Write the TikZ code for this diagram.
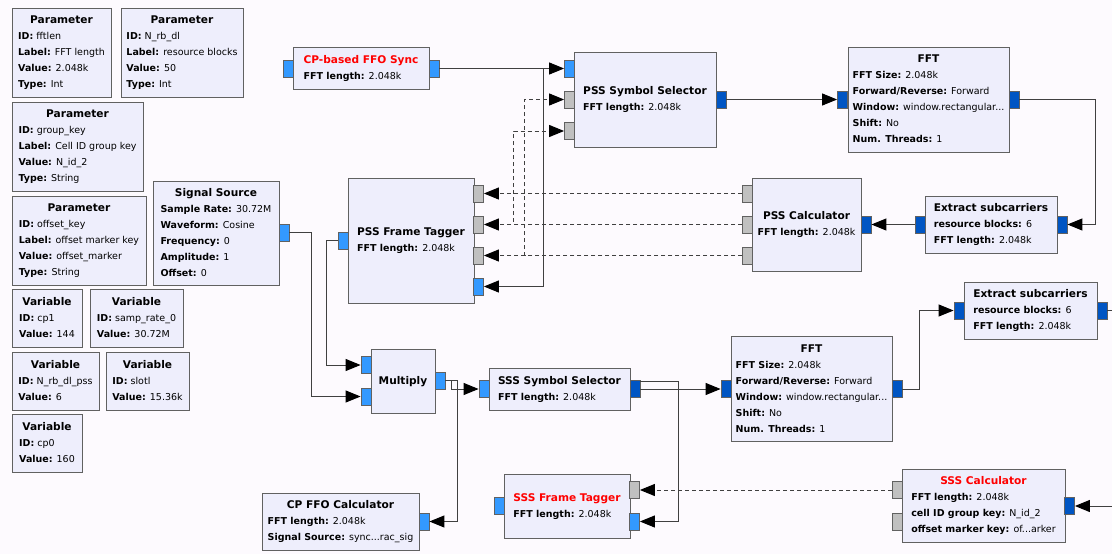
\documentclass[tikz,border=0pt]{standalone}
\usepackage{fontspec}
\setmainfont{DejaVu Sans}
\usetikzlibrary{arrows.meta}

\definecolor{canvas}{RGB}{253,250,254}
\definecolor{blkfill}{RGB}{238,238,252}
\definecolor{blkline}{RGB}{97,97,97}
\definecolor{cplx}{RGB}{51,153,255}
\definecolor{cvec}{RGB}{0,85,195}
\definecolor{msgport}{RGB}{192,192,192}
\definecolor{errred}{RGB}{255,0,0}

\newcommand{\blk}[1]{\begin{tabular}{@{}l@{}}#1\end{tabular}}
\newcommand{\ttl}[1]{\multicolumn{1}{@{}c@{}}{\fontsize{10.6}{16}\selectfont\bfseries #1}}
\newcommand{\rttl}[1]{\ttl{\color{errred}#1}}
\newcommand{\kv}[2]{\textbf{#1:} #2}

\tikzset{
    blk/.style={draw=blkline, fill=blkfill, rectangle, inner sep=0pt, line width=1pt, font=\fontsize{9.5}{16}\selectfont},
    cport/.style={draw=blkline, fill=cplx, rectangle, inner sep=0pt, minimum width=10pt, minimum height=17pt, line width=0.8pt},
    vport/.style={cport, fill=cvec},
    mport/.style={cport, fill=msgport},
    wire/.style={line width=1pt, draw=black!75},
    conn/.style={wire, -{Triangle[length=15pt, width=12pt, color=black]}},
    msg/.style={conn, dash pattern=on 4pt off 3pt}
}

\begin{document}
\begin{tikzpicture}[x=1pt, y=-1pt]
    \useasboundingbox (0,0) rectangle (1112,554);
    \fill[canvas] (0,0) rectangle (1112,554);

    % Parametri e variabili
    \node[blk, minimum width=99pt, minimum height=89pt] (fftlen) at (61.5,52.5) {\blk{\ttl{Parameter}\\ \kv{ID}{fftlen}\\ \kv{Label}{FFT length}\\ \kv{Value}{2.048k}\\ \kv{Type}{Int}}};
    \node[blk, minimum width=122pt, minimum height=89pt] (nrbdl) at (182,52.5) {\blk{\ttl{Parameter}\\ \kv{ID}{N\_rb\_dl}\\ \kv{Label}{resource blocks}\\ \kv{Value}{50}\\ \kv{Type}{Int}}};
    \node[blk, minimum width=131pt, minimum height=89pt] (groupkey) at (77.5,146.5) {\blk{\ttl{Parameter}\\ \kv{ID}{group\_key}\\ \kv{Label}{Cell ID group key}\\ \kv{Value}{N\_id\_2}\\ \kv{Type}{String}}};
    \node[blk, minimum width=134pt, minimum height=89pt] (offsetkey) at (79,240.5) {\blk{\ttl{Parameter}\\ \kv{ID}{offset\_key}\\ \kv{Label}{offset marker key}\\ \kv{Value}{offset\_marker}\\ \kv{Type}{String}}};
    \node[blk, minimum width=70pt, minimum height=58pt] (cp1) at (47,318) {\blk{\ttl{Variable}\\ \kv{ID}{cp1}\\ \kv{Value}{144}}};
    \node[blk, minimum width=93pt, minimum height=58pt] (samprate) at (136.5,318) {\blk{\ttl{Variable}\\ \kv{ID}{samp\_rate\_0}\\ \kv{Value}{30.72M}}};
    \node[blk, minimum width=87pt, minimum height=58pt] (nrbpss) at (55.5,381) {\blk{\ttl{Variable}\\ \kv{ID}{N\_rb\_dl\_pss}\\ \kv{Value}{6}}};
    \node[blk, minimum width=83pt, minimum height=58pt] (slotl) at (147.5,381) {\blk{\ttl{Variable}\\ \kv{ID}{slotl}\\ \kv{Value}{15.36k}}};
    \node[blk, minimum width=70pt, minimum height=58pt] (cp0) at (47,443) {\blk{\ttl{Variable}\\ \kv{ID}{cp0}\\ \kv{Value}{160}}};

    % Blocchi del ramo PSS
    \node[blk, minimum width=126pt, minimum height=104pt] (sigsrc) at (216,233) {\blk{\ttl{Signal Source}\\ \kv{Sample Rate}{30.72M}\\ \kv{Waveform}{Cosine}\\ \kv{Frequency}{0}\\ \kv{Amplitude}{1}\\ \kv{Offset}{0}}};
    \node[blk, minimum width=136pt, minimum height=42pt] (ffosync) at (361,68) {\blk{\rttl{CP-based FFO Sync}\\ \kv{FFT length}{2.048k}}};
    \node[blk, minimum width=142pt, minimum height=95pt] (psssel) at (645,99.5) {\blk{\ttl{PSS Symbol Selector}\\ \kv{FFT length}{2.048k}}};
    \node[blk, minimum width=161pt, minimum height=105pt] (fftpss) at (928.5,99.5) {\blk{\ttl{FFT}\\ \kv{FFT Size}{2.048k}\\ \kv{Forward/Reverse}{Forward}\\ \kv{Window}{window.rectangular...}\\ \kv{Shift}{No}\\ \kv{Num. Threads}{1}}};
    \node[blk, minimum width=132pt, minimum height=57pt] (extpss) at (991,224.5) {\blk{\ttl{Extract subcarriers}\\ \kv{resource blocks}{6}\\ \kv{FFT length}{2.048k}}};
    \node[blk, minimum width=109pt, minimum height=93pt] (psscalc) at (806.5,224.5) {\blk{\ttl{PSS Calculator}\\ \kv{FFT length}{2.048k}}};
    \node[blk, minimum width=126pt, minimum height=125pt] (pssframe) at (411,240.5) {\blk{\ttl{PSS Frame Tagger}\\ \kv{FFT length}{2.048k}}};

    % Blocchi del ramo SSS
    \node[blk, minimum width=64pt, minimum height=64pt] (multiply) at (403,381) {\blk{\ttl{Multiply}}};
    \node[blk, minimum width=141pt, minimum height=42pt] (ssssel) at (559.5,389) {\blk{\ttl{SSS Symbol Selector}\\ \kv{FFT length}{2.048k}}};
    \node[blk, minimum width=161pt, minimum height=105pt] (fftsss) at (811.5,389) {\blk{\ttl{FFT}\\ \kv{FFT Size}{2.048k}\\ \kv{Forward/Reverse}{Forward}\\ \kv{Window}{window.rectangular...}\\ \kv{Shift}{No}\\ \kv{Num. Threads}{1}}};
    \node[blk, minimum width=133pt, minimum height=57pt] (extsss) at (1030.5,310.5) {\blk{\ttl{Extract subcarriers}\\ \kv{resource blocks}{6}\\ \kv{FFT length}{2.048k}}};
    \node[blk, minimum width=157pt, minimum height=57pt] (cpffo) at (340.5,521.5) {\blk{\ttl{CP FFO Calculator}\\ \kv{FFT length}{2.048k}\\ \kv{Signal Source}{sync...rac\_sig}}};
    \node[blk, minimum width=126pt, minimum height=64pt] (sssframe) at (567,506) {\blk{\rttl{SSS Frame Tagger}\\ \kv{FFT length}{2.048k}}};
    \node[blk, minimum width=163pt, minimum height=73pt] (ssscalc) at (983.5,505.5) {\blk{\rttl{SSS Calculator}\\ \kv{FFT length}{2.048k}\\ \kv{cell ID group key}{N\_id\_2}\\ \kv{offset marker key}{of...arker}}};

    % Porte
    \node[cport] (sig-o) at (284,232.5) {};
    \node[cport] (ffo-i) at (288,68.5) {};
    \node[cport] (ffo-o) at (434,68.5) {};
    \node[cport] (pss-i0) at (569.5,68.5) {};
    \node[mport] (pss-i1) at (569.5,99.5) {};
    \node[mport] (pss-i2) at (569.5,131) {};
    \node[vport] (pss-o) at (721,99.5) {};
    \node[vport] (fft1-i) at (842.5,99.5) {};
    \node[vport] (fft1-o) at (1014,99.5) {};
    \node[vport] (ex1-o) at (920.5,224.5) {};
    \node[vport] (ex1-i) at (1062,224.5) {};
    \node[mport] (pc-m0) at (747.5,193.5) {};
    \node[mport] (pc-m1) at (747.5,224.5) {};
    \node[mport] (pc-m2) at (747.5,255.5) {};
    \node[vport] (pc-i) at (866,224.5) {};
    \node[cport] (pft-o) at (343,240.5) {};
    \node[mport] (pft-i0) at (478.5,193.5) {};
    \node[mport] (pft-i1) at (478.5,224.5) {};
    \node[mport] (pft-i2) at (478.5,255.5) {};
    \node[cport] (pft-i3) at (478.5,286.5) {};
    \node[cport] (mul-i0) at (366,365) {};
    \node[cport] (mul-i1) at (366,396.5) {};
    \node[cport] (mul-o) at (440,380.5) {};
    \node[cport] (sss-i) at (484,389) {};
    \node[vport] (sss-o) at (635,389) {};
    \node[vport] (fft2-i) at (726,389) {};
    \node[vport] (fft2-o) at (897,389) {};
    \node[vport] (ex2-i) at (959,310.5) {};
    \node[vport] (ex2-o) at (1102,310.5) {};
    \node[cport] (cpc-i) at (424,521.5) {};
    \node[cport] (sft-o) at (499,506) {};
    \node[mport] (sft-m) at (634.5,490) {};
    \node[cport] (sft-i) at (634.5,521.5) {};
    \node[mport] (sc-m0) at (897,490) {};
    \node[mport] (sc-m1) at (897,521.5) {};
    \node[vport] (sc-i) at (1069.5,506) {};
    \coordinate (edge1) at (1112,310.5);
    \coordinate (edge2) at (1112,506);

    % Connessioni di flusso
    \draw[conn] (sig-o.east) -- ++(22,0) |- (mul-i1.west);
    \draw[conn] (pft-o.west) -- ++(-11,0) |- (mul-i0.west);
    \draw[conn] (ffo-o.east) -- (pss-i0.west);
    \draw[conn] (ffo-o.east) -- ++(104,0) |- (pft-i3.east);
    \draw[conn] (pss-o.east) -- (fft1-i.west);
    \draw[conn] (fft1-o.east) -- ++(76,0) |- (ex1-i.east);
    \draw[conn] (ex1-o.west) -- (pc-i.east);
    \draw[conn] (mul-o.east) -- ++(12,0) |- (cpc-i.east);
    \draw[conn] (mul-o.east) -- ++(6,0) |- (sss-i.west);
    \draw[conn] (sss-o.east) -- (fft2-i.west);
    \draw[conn] ([yshift=8pt]sss-o.east) -- ++(38,0) |- (sft-i.east);
    \draw[conn] (fft2-o.east) -- ++(17,0) |- (ex2-i.west);
    \draw[wire] (ex2-o.east) -- (edge1);
    \draw[conn] (edge2) -- (sc-i.east);

    % Messaggi
    \draw[msg] (pc-m0.west) -- (pft-i0.east);
    \draw[msg] (pc-m1.west) -- (pft-i1.east);
    \draw[msg] (pc-m1.west) -- ++(-228.5,0) |- (pss-i2.west);
    \draw[msg] (pc-m2.west) -- (pft-i2.east);
    \draw[msg] (pc-m2.west) -- ++(-217.5,0) |- (pss-i1.west);
    \draw[msg] (sc-m0.west) -- (sft-m.east);

\end{tikzpicture}
\end{document}
